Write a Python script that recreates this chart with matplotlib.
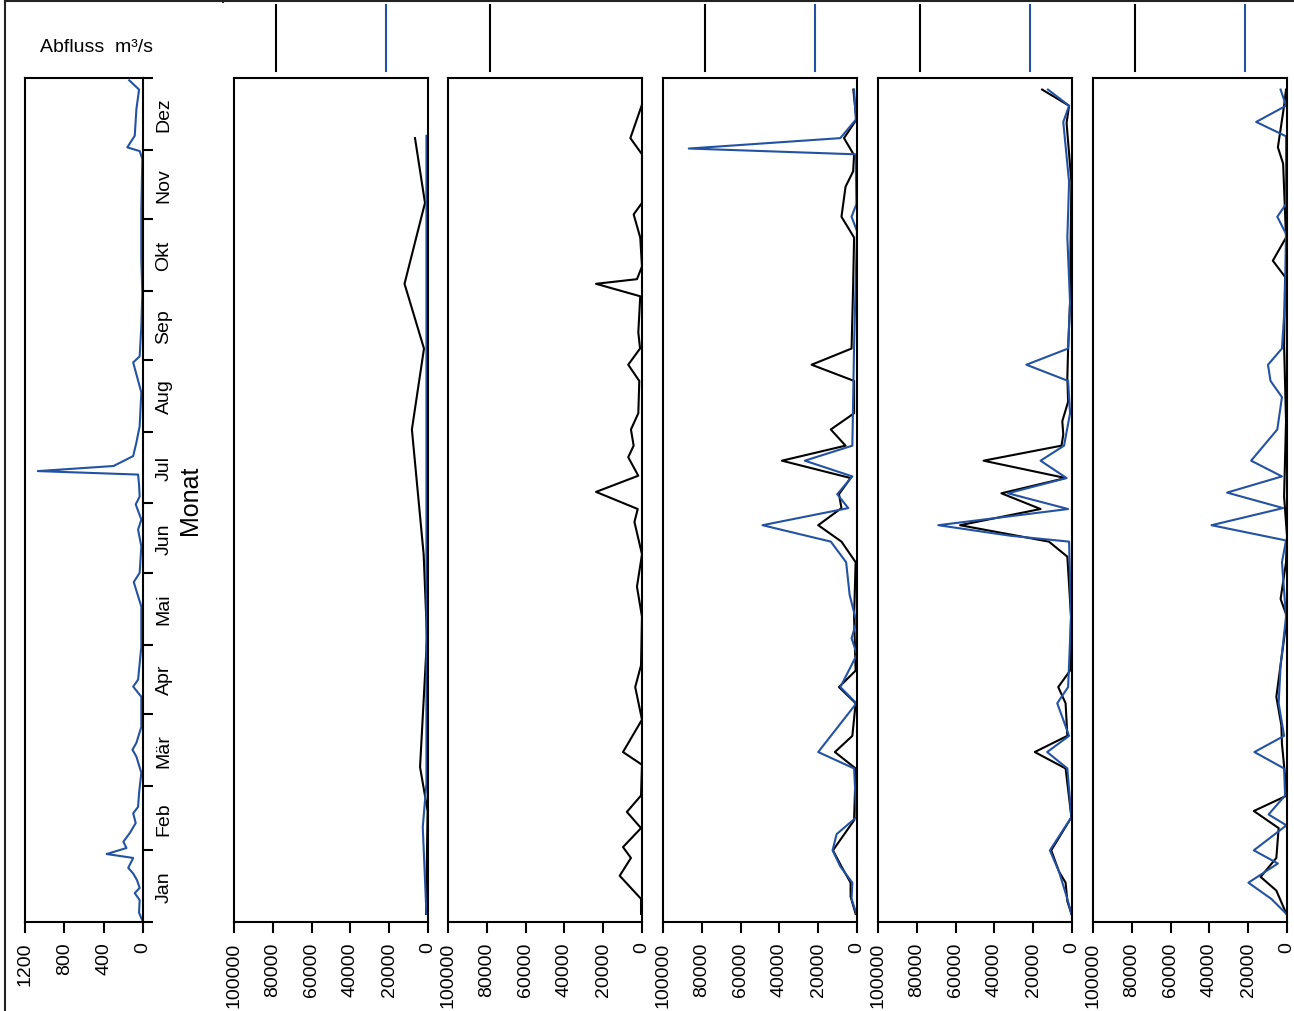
import matplotlib.pyplot as plt
from matplotlib.lines import Line2D

plt.rcParams['font.family'] = ['Liberation Sans', 'DejaVu Sans']

BLUE = '#2352a3'

months = ['Jan', 'Feb', 'Mär', 'Apr', 'Mai', 'Jun', 'Jul', 'Aug', 'Sep', 'Okt', 'Nov', 'Dez']
month_start = [0, 31, 59, 90, 120, 151, 181, 212, 243, 273, 304, 334, 365]

# Abfluss (m3/s), Tag im Jahr
flow_day = [0, 4, 9.5, 12.5, 14.7, 18, 21, 23.4, 27.7, 29.4, 32, 34.7, 38.5, 42.8, 47, 49.8,
            55.8, 64.5, 71.5, 74.5, 77.5, 84.4, 97.4, 101.8, 104.8, 119, 136.4, 147, 151,
            162.4, 169.7, 174, 180.6, 184, 189, 193.5, 195, 197.2, 201.5, 207.4, 214.4, 229,
            242, 244.6, 257.6, 272, 286.6, 308, 330, 333.4, 335, 340, 351.6, 360, 364]
flow_val = [0, 40, 34, 84, 34, 60, 100, 150, 100, 370, 168, 200, 134, 74, 100, 50,
            40, 17, 67, 107, 67, 17, 17, 100, 50, 17, 17, 94, 34,
            17, 50, 17, 74, 34, 40, 50, 1070, 300, 100, 67, 34, 17,
            100, 34, 17, 7, 17, 17, 7, 34, 160, 84, 67, 40, 140]

# Panel 1
a_black_day = [3.5, 48, 67, 123, 159, 213, 248, 276, 311, 339]
a_black_val = [1000, 200, 4100, 500, 2240, 8300, 2070, 12100, 1550, 6700]
a_blue_day = [3.5, 41, 60, 340]
a_blue_val = [800, 2700, 800, 800]

# Panel 2
b_black_day = [3.5, 10, 20, 27.7, 32.4, 40.6, 47.6, 54.7, 68, 73.5, 87.5, 101.6, 111, 132, 145,
               159, 173, 178.6, 186, 193, 201, 206, 213, 220, 234, 241, 248, 255, 270.6, 276,
               278, 283.5, 296, 306, 311, 332, 339, 353.5]
b_black_val = [500, 500, 11500, 5700, 9800, 500, 7800, 500, 0, 9800, 0, 3500, 500, 0, 2600,
               0, 3900, 2200, 23700, 1900, 7100, 4300, 5700, 1900, 1400, 7100, 1000, 1900, 900, 23700,
               2600, 0, 900, 4300, 0, 0, 6000, 0]
b_blue_day = []
b_blue_val = []

# Panel 3
c_black_day = [3.5, 11, 17, 24, 31, 44, 66.4, 73.5, 80.5, 94.6, 101.6, 108.7, 132, 155.6, 164.5,
               171.6, 179, 185, 192, 199.5, 206, 213, 220, 234, 241, 248, 275, 296, 305, 318,
               324.6, 331.6, 339, 347, 360]
c_black_val = [700, 3300, 3300, 8000, 12400, 1500, 700, 11400, 2400, 700, 9300, 700, 1500, 700, 8000,
               20000, 8000, 9300, 3300, 38700, 5900, 13500, 1500, 1500, 23400, 2800, 2000, 1500, 8000, 5900,
               2000, 1500, 6700, 300, 1900]
c_blue_day = [3.5, 10, 17, 24, 31, 38, 45.3, 66.4, 73.5, 94.6, 101.6, 115.7, 122.7, 129.8, 141.5,
              155.6, 164.5, 171.6, 179, 185, 192.7, 199.5, 206, 249.5, 298.8, 305, 310.5, 332, 334.5,
              339, 347, 360]
c_blue_val = [300, 2800, 2400, 8600, 12600, 10500, 300, 1500, 20000, 300, 8600, 0, 2800, 300, 3800,
              5600, 13500, 48700, 4500, 10200, 2400, 26900, 2400, 1500, 0, 2800, 300, 700, 86700,
              8600, 600, 1500]

# Panel 4
d_black_day = [3.5, 9, 17, 21.8, 31, 45.3, 66.4, 73.5, 80.5, 94.6, 101.6, 108.7, 132, 158, 164.5,
               171.6, 178.6, 185.4, 192, 199.5, 206, 210.8, 216.6, 225, 235.4, 248, 268, 296, 320,
               345.6, 353, 360]
d_black_val = [300, 2400, 3300, 6700, 10700, 300, 3300, 19200, 2400, 3300, 7100, 1000, 500, 2400, 11900,
               57700, 16200, 36400, 3300, 45600, 5400, 4500, 5000, 2000, 2400, 2000, 1000, 700, 300,
               2800, 1500, 15400]
d_blue_day = [3.5, 10, 21.8, 31, 45.3, 66.4, 73.5, 80.5, 94.6, 101.6, 132, 164.5, 167, 171.6, 178.6,
              185.4, 192, 199.5, 206, 220, 234, 241, 248, 268, 296, 320, 346, 353, 360]
d_blue_val = [300, 2400, 6700, 11400, 300, 2400, 12800, 1500, 7600, 2000, 500, 1500, 31400, 68900, 2000,
              33000, 2800, 16200, 4100, 1000, 2000, 23500, 2000, 1000, 2400, 1500, 4500, 1500, 12400]

# Panel 5
e_black_day = [3.5, 13.6, 19.5, 27.7, 40.6, 48, 54.7, 77, 85, 97.4, 132, 139.7, 155.6, 167, 184,
               216.6, 249.5, 279, 286, 296, 328, 335, 353, 360]
e_black_val = [300, 5500, 13600, 5500, 4300, 17100, 0, 2600, 2900, 5500, 0, 3300, 500, 0, 1500,
               500, 1500, 1000, 7300, 500, 2000, 4700, 1500, 500]
e_blue_day = [3.5, 10, 17, 25.3, 31, 41.8, 46.5, 54.7, 66.4, 73.5, 80.5, 94.6, 111, 132, 155.6,
              165, 171.6, 179, 185.7, 192.7, 199.5, 213, 227, 234, 241, 248, 266, 297.6, 305,
              310.5, 339.8, 346, 353, 360]
e_blue_val = [300, 8100, 19900, 4700, 17100, 300, 9500, 1000, 1500, 16800, 1500, 4300, 3300, 500, 2600,
              500, 38900, 2000, 30900, 2600, 18500, 5000, 2600, 8500, 9800, 2600, 1200, 500, 5000,
              500, 500, 15900, 500, 3300]

panels = [
    (a_black_day, a_black_val, a_blue_day, a_blue_val),
    (b_black_day, b_black_val, b_blue_day, b_blue_val),
    (c_black_day, c_black_val, c_blue_day, c_blue_val),
    (d_black_day, d_black_val, d_blue_day, d_blue_val),
    (e_black_day, e_black_val, e_blue_day, e_blue_val),
]

W, H = 1294, 1012
fig = plt.figure(figsize=(W / 100, H / 100), dpi=100)


def px_axes(x0, x1, y0=79, y1=923):
    return fig.add_axes([x0 / W, (H - y1) / H, (x1 - x0) / W, (y1 - y0) / H])


def style(ax):
    for s in ax.spines.values():
        s.set_linewidth(1.5)
    ax.tick_params(axis='x', direction='out', length=8, width=1.5, labelsize=14,
                   labelrotation=90, pad=6)
    ax.set_ylim(0, 365)


# Abfluss panel
ax0 = px_axes(25, 143)
style(ax0)
ax0.plot(flow_val, flow_day, color=BLUE, lw=1.5)
ax0.set_xlim(1200, 0)
ax0.set_xticks([1200, 800, 400, 0])
ax0.yaxis.tick_right()
ax0.set_yticks(month_start)
ax0.set_yticklabels([])
mids = [(month_start[i] + month_start[i + 1]) / 2 for i in range(12)]
ax0.set_yticks(mids, minor=True)
ax0.set_yticklabels(months, minor=True, rotation=90, va='center', fontsize=14)
ax0.tick_params(axis='y', which='major', direction='out', length=7, width=1.5)
ax0.tick_params(axis='y', which='minor', length=0, pad=9)

# five load panels
lefts = [234, 448, 663, 878, 1093]
for left, (kd, kv, bd, bv) in zip(lefts, panels):
    ax = px_axes(left, left + 194)
    style(ax)
    ax.plot(kv, kd, color='black', lw=1.5)
    if bd:
        ax.plot(bv, bd, color=BLUE, lw=1.5)
    ax.set_xlim(100000, 0)
    ax.set_xticks([100000, 80000, 60000, 40000, 20000, 0])
    ax.set_yticks([])
    # legend strokes above panel
    ax.plot([0.218, 0.218], [1.008, 1.086], color='black', lw=1.5,
            transform=ax.transAxes, clip_on=False)
    if bd:
        ax.plot([0.782, 0.782], [1.008, 1.086], color=BLUE, lw=1.5,
                transform=ax.transAxes, clip_on=False)

fig.text(40 / W, 1 - 47 / H, 'Abfluss  m³/s', fontsize=14, ha='left', va='center')
fig.text(190 / W, 1 - 500 / H, 'Monat', fontsize=18, rotation=90, ha='center', va='center')

# outer frame remnants
fig.add_artist(Line2D([5 / W, 1], [1 - 1.5 / H, 1 - 1.5 / H], color='#222222', lw=1.5))
fig.add_artist(Line2D([5 / W, 5 / W], [0, 1 - 1.5 / H], color='#222222', lw=1.5))
fig.add_artist(Line2D([223 / W, 223 / W], [1 - 3 / H, 1], color='#222222', lw=1.5))

fig.savefig('out.png', dpi=100)
